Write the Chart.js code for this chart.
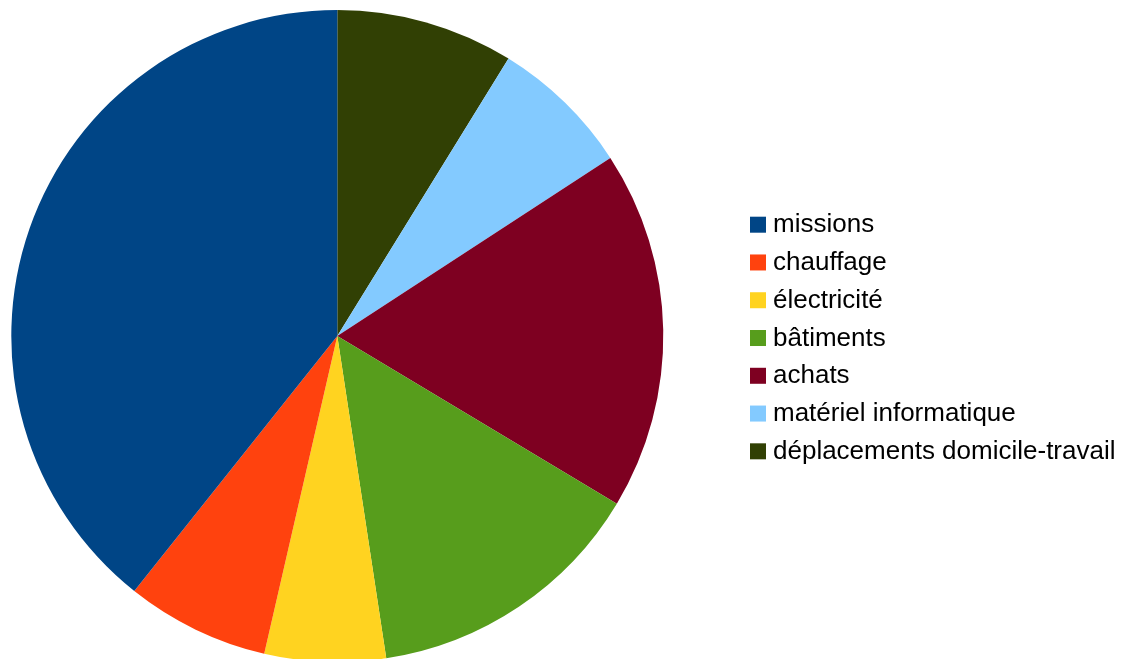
<!DOCTYPE html>
<html>
<head>
<meta charset="utf-8">
<script src="https://cdn.jsdelivr.net/npm/chart.js@4/dist/chart.umd.min.js"></script>
<style>
  html, body { margin: 0; padding: 0; background: #ffffff; }
  #wrap { width: 1123px; height: 659px; position: relative; }
</style>
</head>
<body>
<div id="wrap"><canvas id="c" width="1123" height="659"></canvas></div>
<script>
// Categories (legend order) and values (share in %)
const categories = ["missions", "chauffage", "électricité", "bâtiments", "achats", "matériel informatique", "déplacements domicile-travail"];
const values = [39.3, 7.1, 6.0, 14.0, 17.8, 7.0, 8.8];
const colors = ["#004586", "#ff420e", "#ffd320", "#579d1c", "#7e0021", "#83caff", "#314004"];

// The reference runs counter-clockwise from 12 o'clock; Chart.js runs clockwise,
// so the dataset is fed in reverse order while the legend keeps the original order.
const pieLabels = categories.slice().reverse();
const pieValues = values.slice().reverse();
const pieColors = colors.slice().reverse();

const legendPlugin = {
  id: 'sideLegend',
  afterDraw(chart) {
    const ctx = chart.ctx;
    ctx.save();
    ctx.font = '26px "Liberation Sans", Arial, sans-serif';
    ctx.textBaseline = 'alphabetic';
    ctx.textAlign = 'left';
    const step = 37.77;
    categories.forEach((name, i) => {
      const top = 216.7 + i * step;
      ctx.fillStyle = colors[i];
      ctx.fillRect(750, top, 16, 16);
      ctx.fillStyle = '#000000';
      ctx.fillText(name, 773, top + 15.6);
    });
    ctx.restore();
  }
};

new Chart(document.getElementById('c'), {
  type: 'pie',
  data: {
    labels: pieLabels,
    datasets: [{
      data: pieValues,
      backgroundColor: pieColors,
      borderWidth: 0,
      radius: 326,
      clip: false
    }]
  },
  options: {
    responsive: false,
    animation: false,
    layout: { padding: { left: 0, right: 448.4, top: 13, bottom: 0 } },
    plugins: {
      legend: { display: false },
      tooltip: { enabled: false }
    }
  },
  plugins: [legendPlugin]
});
</script>
</body>
</html>
